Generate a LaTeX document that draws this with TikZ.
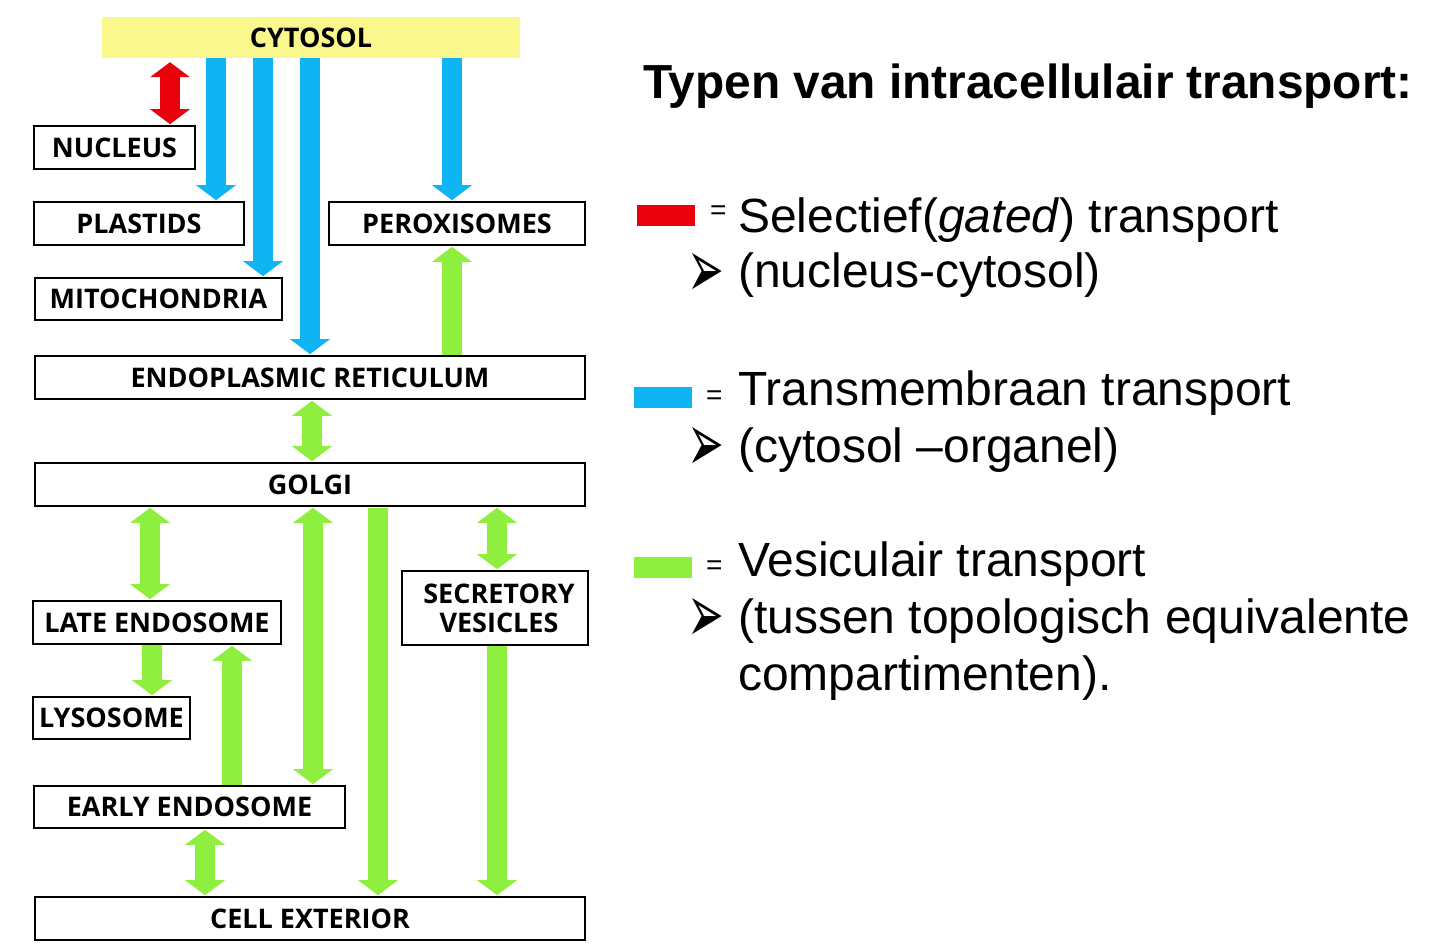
\documentclass[tikz,border=0pt]{standalone}
\usepackage{fontspec}
\usepackage{graphicx}
\setmainfont{Liberation Sans}
\newfontfamily\boxfont{Open Sans}
\newfontfamily\symfont{DejaVu Sans}
\usetikzlibrary{arrows.meta}
\definecolor{cyto}{HTML}{FAF78C}
\definecolor{tblue}{HTML}{0FB4F2}
\definecolor{tred}{HTML}{E8000B}
\definecolor{tgreen}{HTML}{8FEF3F}
\tikzset{
  organelle/.style={draw=black, line width=1.7pt, inner sep=0pt, align=center,
    font=\boxfont\bfseries\fontsize{27}{27}\selectfont},
  fat/.style={line width=20pt},
  onehead/.style={fat, -{Triangle[width=40pt,length=15pt,line width=0pt]}},
  twohead/.style={fat, {Triangle[width=40pt,length=15pt,line width=0pt]}-{Triangle[width=40pt,length=15pt,line width=0pt]}},
  legtext/.style={anchor=base west, inner sep=0pt, font=\fontsize{48}{48}\selectfont},
  eqsign/.style={anchor=base west, inner sep=0pt, font=\fontsize{28}{28}\selectfont},
  bullet/.style={anchor=base west, inner sep=0pt, font=\symfont\fontsize{36}{36}\selectfont},
  legbox/.style={inner sep=0pt, minimum width=58pt, minimum height=21pt}
}
\newcommand{\bigbullet}{\scalebox{1.22}[2.3]{➢}}
\begin{document}
\begin{tikzpicture}[x=1pt,y=-1pt]
\useasboundingbox (0,0) rectangle (1442,945);
% boxes
\node[fill=cyto, inner sep=0pt, minimum width=418pt, minimum height=41pt,
      font=\boxfont\bfseries\fontsize{27}{27}\selectfont] (cyto) at (311,37.5) {CYTOSOL};
\node[organelle, minimum width=161pt, minimum height=43pt] (nuc) at (114.5,147.5) {NUCLEUS};
\node[organelle, minimum width=210pt, minimum height=43pt] (pla) at (139,223.5) {PLASTIDS};
\node[organelle, minimum width=256pt, minimum height=43pt] (per) at (457,223.5) {PEROXISOMES};
\node[organelle, minimum width=247pt, minimum height=42pt] (mit) at (158.5,299) {MITOCHONDRIA};
\node[organelle, minimum width=550pt, minimum height=43pt] (er) at (310,377.5) {ENDOPLASMIC RETICULUM};
\node[organelle, minimum width=550pt, minimum height=43pt] (gol) at (310,484.5) {GOLGI};
\node[organelle, minimum width=248pt, minimum height=43pt] (late) at (157,622.5) {LATE ENDOSOME};
\node[organelle, minimum width=186pt, minimum height=74pt, font=\boxfont\bfseries\fontsize{27}{29}\selectfont] (sec) at (495,608) {\hspace*{8pt}SECRETORY\\\hspace*{8pt}VESICLES};
\node[organelle, minimum width=157pt, minimum height=42pt] (lys) at (111.5,718) {LYSOSOME};
\node[organelle, minimum width=311pt, minimum height=42pt] (early) at (189.5,807) {EARLY ENDOSOME};
\node[organelle, minimum width=550pt, minimum height=43pt] (ext) at (310,918.5) {CELL EXTERIOR};
% gated (red)
\draw[twohead, tred] ([yshift=-4pt]cyto.south -| 170,0) -- ([yshift=1pt]nuc.north -| 170,0);
% transmembrane (blue)
\draw[onehead, tblue] (cyto.south -| 216,0) -- ([yshift=1pt]pla.north -| 216,0);
\draw[onehead, tblue] (cyto.south -| 263,0) -- ([yshift=1pt]mit.north -| 263,0);
\draw[onehead, tblue] (cyto.south -| 310,0) -- ([yshift=1pt]er.north -| 310,0);
\draw[onehead, tblue] (cyto.south -| 452,0) -- ([yshift=1pt]per.north -| 452,0);
% vesicular (green)
\draw[onehead, tgreen] (er.north -| 452,0) -- ([yshift=-1pt]per.south -| 452,0);
\draw[twohead, tgreen] ([yshift=-1pt]er.south -| 312,0) -- ([yshift=1pt]gol.north -| 312,0);
\draw[twohead, tgreen] ([yshift=-1pt]gol.south -| 150,0) -- ([yshift=1pt]late.north -| 150,0);
\draw[twohead, tgreen] ([yshift=-1pt]gol.south -| 313,0) -- ([yshift=1pt]early.north -| 313,0);
\draw[onehead, tgreen] ([yshift=-1pt]gol.south -| 378,0) -- ([yshift=1pt]ext.north -| 378,0);
\draw[twohead, tgreen] ([yshift=-1pt]gol.south -| 497,0) -- ([yshift=1pt]sec.north -| 497,0);
\draw[onehead, tgreen] (sec.south -| 497,0) -- ([yshift=1pt]ext.north -| 497,0);
\draw[onehead, tgreen] (late.south -| 152,0) -- ([yshift=1pt]lys.north -| 152,0);
\draw[onehead, tgreen] (early.north -| 232,0) -- ([yshift=-1pt]late.south -| 232,0);
\draw[twohead, tgreen] ([yshift=-1pt]early.south -| 205,0) -- ([yshift=1pt]ext.north -| 205,0);
% title
\node[anchor=base west, inner sep=0pt, font=\bfseries\fontsize{47.8}{48}\selectfont] (title) at (643,98) {Typen van intracellulair transport:};
% legend
\node[legbox, fill=tred] (lred) at (666,215) {};
\node[eqsign] (eq1) at (710,219) {=};
\node[legtext] (t1) at (738,232) {Selectief(\textit{gated}) transport};
\node[bullet] (b1) at (687,297) {\bigbullet};
\node[legtext] (t1b) at (738,287) {(nucleus-cytosol)};
\node[legbox, fill=tblue] (lblue) at (662.5,397.5) {};
\node[eqsign] (eq2) at (706,404) {=};
\node[legtext] (t2) at (738,405) {Transmembraan transport};
\node[bullet] (b2) at (687,471) {\bigbullet};
\node[legtext] (t2b) at (738,462) {(cytosol –organel)};
\node[legbox, fill=tgreen] (lgreen) at (662.5,567.5) {};
\node[eqsign] (eq3) at (706,574) {=};
\node[legtext] (t3) at (738,576) {Vesiculair transport};
\node[bullet] (b3) at (687,642) {\bigbullet};
\node[legtext] (t3b) at (738,633) {(tussen topologisch equivalente};
\node[legtext] (t3c) at (738,690) {compartimenten).};
\end{tikzpicture}
\end{document}
